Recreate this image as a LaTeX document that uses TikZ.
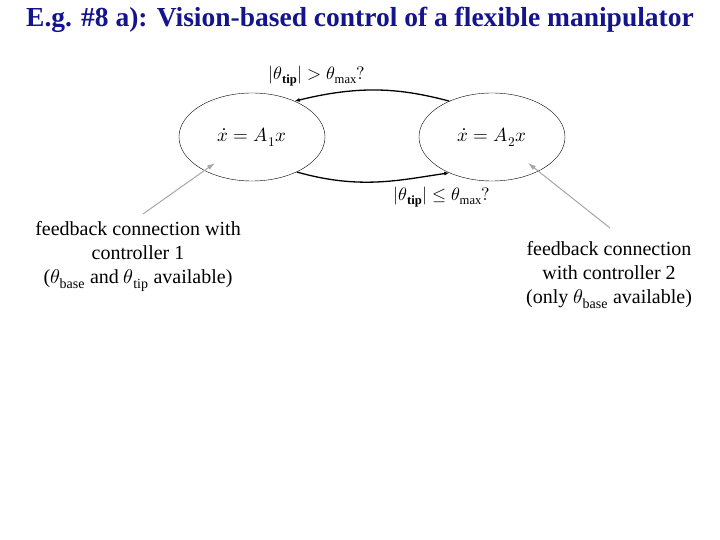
\documentclass[tikz,border=0pt]{standalone}
\usepackage{fontspec}
\usepackage{unicode-math}
\setmainfont{Liberation Serif}
\setmathfont{Latin Modern Math}
\usetikzlibrary{arrows.meta,shapes.geometric}
\definecolor{navy}{RGB}{20,20,140}
\begin{document}
\begin{tikzpicture}[x=1pt,y=-1pt,
  st/.style={draw,ellipse,minimum width=146pt,minimum height=88pt,inner sep=0pt,font=\fontsize{19}{22}\selectfont},
  tr/.style={line width=1.3pt,-{Latex[length=5pt,width=4pt]}},
  ga/.style={draw=gray!70,line width=1pt,-{Latex[length=8pt,width=5pt]}},
  txt/.style={align=center,font=\fontsize{20}{24}\selectfont}]
\useasboundingbox (0,0) rectangle (720,540);
\node[font=\fontsize{27.5}{30}\bfseries\selectfont,text=navy] (title) at (360,20) {E.g. \#8 a): Vision-based control of a flexible manipulator};
\node[st] (s1) at (252,137) {$\dot x = A_1 x$};
\node[st] (s2) at (492,137) {$\dot x = A_2 x$};
\draw[tr] (s2.140) .. controls (400,88) and (360,85) .. (s1.40);
\draw[tr] (s1.-38) .. controls (360,190) and (400,180) .. (s2.-140);
\node[font=\fontsize{18}{20}\selectfont] (l1) at (317,76) {$|\theta_{\mathbf{tip}}| > \theta_{\max}?$};
\node[font=\fontsize{18}{20}\selectfont] (l2) at (442,197) {$|\theta_{\mathbf{tip}}| \le \theta_{\max}?$};
\node[txt] (t1) at (138,256) {feedback connection with\\controller 1\\($\theta_{\text{base}}$ and $\theta_{\text{tip}}$ available)};
\node[txt] (t2) at (609,275) {feedback connection\\with controller 2\\(only $\theta_{\text{base}}$ available)};
\coordinate (a1) at (143,214);
\coordinate (a2) at (610,228);
\draw[ga] (a1) -- (215,163);
\draw[ga] (a2) -- (528,163);
\end{tikzpicture}
\end{document}
